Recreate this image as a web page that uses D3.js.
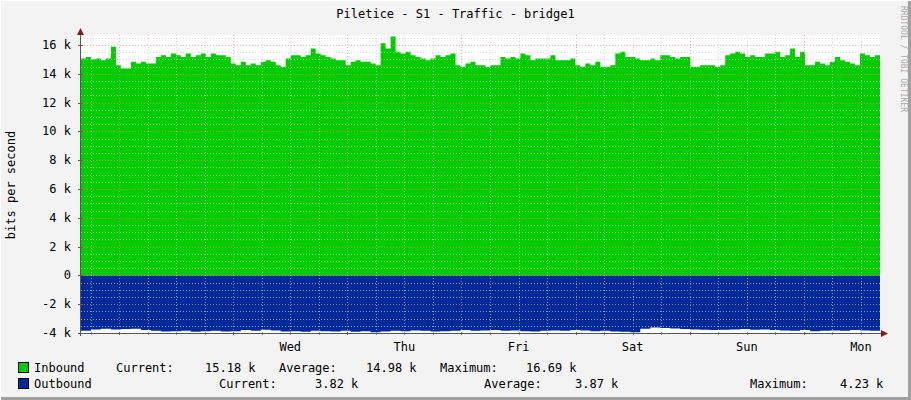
<!DOCTYPE html>
<html>
<head>
<meta charset="utf-8">
<script src="https://cdn.jsdelivr.net/npm/d3@7"></script>
<style>
  body { margin: 0; background: #f3f3f3; }
  text { font-family: "DejaVu Sans Mono", monospace; font-size: 12px; fill: #000; }
</style>
</head>
<body>
<div id="chart"></div>
<script>
// inbound traffic, k bits/s, one sample ~every 1.05 h
let inbound = [
    15.07, 15.18, 15.02, 15.07, 14.95, 15.07, 15.89, 14.60, 14.37, 14.37, 14.84, 14.72, 14.84, 14.72, 14.72, 15.18,
    15.30, 15.18, 15.42, 15.30, 15.18, 15.42, 15.18, 15.30, 15.42, 15.18, 15.42, 15.30, 15.30, 15.18, 14.72, 14.60,
    14.84, 14.60, 14.72, 14.60, 14.84, 14.95, 14.84, 14.60, 14.49, 15.07, 15.30, 15.30, 15.18, 15.30, 15.77, 15.42,
    15.30, 15.18, 15.07, 14.95, 14.95, 14.60, 14.84, 14.95,
    14.84, 14.84, 14.72, 14.60, 16.12, 15.77, 16.59, 15.54, 15.42, 15.54, 15.30, 15.18, 15.07, 14.95, 15.07, 15.30,
    15.18, 15.30, 15.42, 14.60, 14.49, 14.72, 14.84, 14.60, 14.60, 14.49, 14.60, 14.60, 15.18, 15.07, 15.18, 15.07,
    15.42, 15.30, 14.95, 15.07, 15.07, 15.07, 15.30, 14.95, 14.95, 14.95, 15.07, 14.60, 14.49, 14.72, 14.60, 14.84,
    14.49, 14.49, 14.60, 15.42, 15.54, 15.18,
    15.18, 15.07, 14.95, 14.95, 15.07, 14.95, 15.30, 15.30, 15.18, 15.07, 15.18, 15.18, 14.49, 14.49, 14.60, 14.60,
    14.60, 14.49, 14.60, 15.30, 15.42, 15.54, 15.42, 15.18, 15.30, 15.18, 15.18, 15.42, 15.42, 15.54, 15.18, 15.30,
    15.77, 15.18, 15.54, 14.60, 14.60, 14.84, 14.72, 14.60, 14.84, 15.18, 14.95, 14.84, 14.72, 14.60, 15.42, 15.30,
    15.18, 15.30
];
// outbound traffic, k bits/s, drawn below zero
let outbound = [
    3.85, 3.75, 3.70, 3.75, 3.72, 3.70, 3.80, 3.85, 3.90, 3.88, 3.85, 3.92, 3.88, 3.85, 3.90, 3.88,
    3.80, 3.85, 3.78, 3.82, 3.90, 3.88, 3.92, 3.85, 3.88, 3.90, 3.85, 3.92, 3.88, 3.95, 3.90, 3.85,
    3.88, 3.82, 3.85, 3.90, 3.88, 3.85, 3.80, 3.85, 3.82, 3.80, 3.85, 3.82, 3.88, 3.90, 3.85, 3.82,
    3.85, 3.80, 3.82, 3.88, 3.85, 3.90, 3.92, 3.95, 3.70, 3.62, 3.65, 3.68, 3.72, 3.75, 3.78, 3.80,
    3.78, 3.75, 3.72, 3.78, 3.75, 3.80, 3.82, 3.85, 3.80, 3.88, 3.85, 3.82, 3.85, 3.80, 3.82, 3.85
];
let dayLabels = ['Wed', 'Thu', 'Fri', 'Sat', 'Sun', 'Mon', 'Tue'];
let yTicks = [-4, -2, 0, 2, 4, 6, 8, 10, 12, 14, 16];
let legendRows = [
    { name: 'Inbound', color: '#00cc00', cur: '15.18 k', avg: '14.98 k', max: '16.69 k' },
    { name: 'Outbound', color: '#002a97', cur: '3.82 k', avg: '3.87 k', max: '4.23 k' }
];

let W = 911, H = 400;
let pL = 81, pR = 880, pT = 35, pB = 333;
let start = new Date(2016, 0, 5, 16), end = new Date(2016, 0, 12, 16);

let x = d3.scaleTime().domain([start, end]).range([pL, pR]);
let y = d3.scaleLinear().domain([-4.0, 16.7]).range([pB, pT]);

let svg = d3.select('#chart').append('svg')
    .attr('width', W)
    .attr('height', H)

svg.append('rect').attr('width', W).attr('height', H).attr('fill', '#f3f3f3')
svg.append('path').attr('d', `M0,${H - 1.5}H${W - 1.5}V0`).attr('stroke', '#a0a0a0').attr('stroke-width', 3).attr('fill', 'none')
svg.append('path').attr('d', `M0,${H}V0H${W}`).attr('stroke', '#ffffff').attr('stroke-width', 2).attr('fill', 'none')

svg.append('rect').attr('x', pL).attr('y', pT).attr('width', pR - pL).attr('height', pB - pT).attr('fill', '#fff')

svg.append('clipPath').attr('id', 'plot').append('rect')
    .attr('x', pL).attr('y', pT).attr('width', pR - pL).attr('height', pB - pT)

let span = end - start;
let inPts = inbound.map((v, i) => [new Date(+start + i * span / inbound.length), v]);
inPts.push([end, inbound[inbound.length - 1]]);
let outPts = outbound.map((v, i) => [new Date(+start + i * span / outbound.length), -v]);
outPts.push([end, -outbound[outbound.length - 1]]);

let area = d3.area().curve(d3.curveStepAfter)
    .x(d => x(d[0])).y0(y(0)).y1(d => y(d[1]));

svg.append('path').datum(inPts).attr('d', area).attr('fill', '#00cc00').attr('clip-path', 'url(#plot)')
svg.append('path').datum(outPts).attr('d', area).attr('fill', '#002a97').attr('clip-path', 'url(#plot)')

// grid
let g = svg.append('g').attr('opacity', 0.7);
d3.range(-4, 16.75, 0.5).forEach(v => {
    let major = v % 2 === 0;
    g.append('line').attr('x1', pL).attr('x2', pR).attr('y1', Math.round(y(v)) + 0.5).attr('y2', Math.round(y(v)) + 0.5)
        .attr('stroke', major ? '#e09090' : '#c8c8c8').attr('stroke-dasharray', '1,2')
})
d3.timeHour.every(6).range(start, end).forEach(t => {
    let major = t.getHours() === 0;
    let px = Math.round(x(t)) + 0.5;
    g.append('line').attr('x1', px).attr('x2', px).attr('y1', pT).attr('y2', pB)
        .attr('stroke', major ? '#e09090' : '#c8c8c8').attr('stroke-dasharray', '1,2')
    svg.append('line').attr('x1', px).attr('x2', px).attr('y1', pB - 1).attr('y2', pB + 2)
        .attr('stroke', major ? '#b04040' : '#909090')
})
yTicks.forEach(v => {
    svg.append('line').attr('x1', pL - 3).attr('x2', pL + 2).attr('y1', Math.round(y(v)) + 0.5).attr('y2', Math.round(y(v)) + 0.5).attr('stroke', '#b04040')
    svg.append('text').attr('x', 71).attr('y', y(v) + 4).attr('text-anchor', 'end')
        .text(v === 0 ? '0' : v + ' k')
})
d3.timeDay.range(start, end).forEach((t, i) => {
    let noon = d3.timeHour.offset(t, 36);
    if (i < dayLabels.length)
        svg.append('text').attr('x', x(noon)).attr('y', pB + 18).attr('text-anchor', 'middle').text(dayLabels[i])
})

// axes with arrows
svg.append('line').attr('x1', pL - 0.5).attr('x2', pL - 0.5).attr('y1', 30).attr('y2', pB + 3).attr('stroke', '#555')
svg.append('line').attr('x1', pL - 3).attr('x2', pR + 4).attr('y1', pB + 0.5).attr('y2', pB + 0.5).attr('stroke', '#555')
svg.append('path').attr('d', `M${pL - 4},${35}L${pL - 0.5},${28}L${pL + 3},${35}Z`).attr('fill', '#8b1a1a')
svg.append('path').attr('d', `M${pR + 1},${pB - 3}L${pR + 8},${pB + 0.5}L${pR + 1},${pB + 4}Z`).attr('fill', '#8b1a1a')

svg.append('text').attr('x', W / 2).attr('y', 18).attr('text-anchor', 'middle').text('Piletice - S1 - Traffic - bridge1')
svg.append('text').attr('transform', 'translate(15,185) rotate(-90)').attr('text-anchor', 'middle').text('bits per second')
svg.append('text').attr('transform', 'translate(901,6) rotate(90)').style('font-size', '8px').style('fill', '#aaa')
    .text('RRDTOOL / TOBI OETIKER')

// legend
let cols = [
    [116, 205, 279, 366, 440, 526],
    [219, 315, 484, 575, 750, 840]
];
legendRows.forEach((r, i) => {
    let ly = 372 + i * 16;
    svg.append('rect').attr('x', 18.5).attr('y', ly - 9.5).attr('width', 10).attr('height', 10)
        .attr('fill', r.color).attr('stroke', '#000')
    svg.append('text').attr('x', 34).attr('y', ly).text(r.name)
    let c = cols[i];
    svg.append('text').attr('x', c[0]).attr('y', ly).text('Current:')
    svg.append('text').attr('x', c[1]).attr('y', ly).text(r.cur)
    svg.append('text').attr('x', c[2]).attr('y', ly).text('Average:')
    svg.append('text').attr('x', c[3]).attr('y', ly).text(r.avg)
    svg.append('text').attr('x', c[4]).attr('y', ly).text('Maximum:')
    svg.append('text').attr('x', c[5]).attr('y', ly).text(r.max)
})
</script>
</body>
</html>
